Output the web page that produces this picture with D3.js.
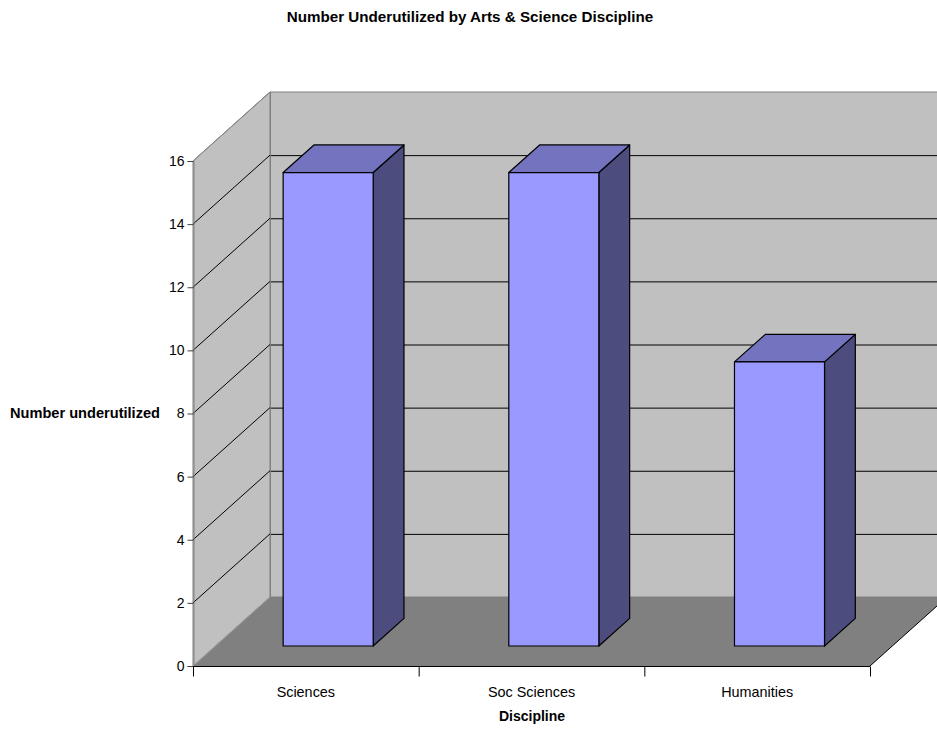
<!DOCTYPE html>
<html>
<head>
<meta charset="utf-8">
<script src="https://cdn.jsdelivr.net/npm/d3@7"></script>
<style>
  html, body { margin: 0; padding: 0; background: #fff; }
  svg { display: block; font-family: "Liberation Sans", Arial, sans-serif; }
</style>
</head>
<body>
<svg id="chart" width="937" height="731"></svg>
<script>
// Data
const categories = ["Sciences", "Soc Sciences", "Humanities"];
const values = [15, 15, 9];
const yTicks = [0, 2, 4, 6, 8, 10, 12, 14, 16];
const titleText = "Number Underutilized by Arts & Science Discipline";
const yTitle = "Number underutilized";
const xTitle = "Discipline";

const svg = d3.select("#chart");

// Front-plane geometry and the oblique depth offset of the 3D box
const plotLeft = 193, plotRight = 870, plotBottom = 666, plotTop = 161;
const depthX = 77, depthY = -69;
const barD0 = 0.29, barD1 = 0.69;   // bar depth within the box (0 = front, 1 = back)

const y = d3.scaleLinear().domain([0, 16]).range([plotBottom, plotTop]);
const xCat = d3.scaleBand().domain(categories).range([plotLeft, plotRight]).padding(0);
const xBar = d3.scaleBand().domain(categories).range([plotLeft, plotRight])
  .paddingInner(0.601).paddingOuter(0.3005);

// project a front-plane point (px, py) to depth d
const P = (px, py, d) => [px + d * depthX, py + d * depthY];
const poly = pts => pts.map(p => p.join(",")).join(" ");

const yMax = 16;
const backRight = plotRight + depthX;

// Back wall
svg.append("polygon")
  .attr("points", poly([P(plotLeft, y(yMax), 1), P(plotRight, y(yMax), 1), P(plotRight, y(0), 1), P(plotLeft, y(0), 1)]))
  .attr("fill", "#c0c0c0").attr("stroke", "#808080").attr("stroke-width", 1);

// Side wall
svg.append("polygon")
  .attr("points", poly([P(plotLeft, y(yMax), 0), P(plotLeft, y(yMax), 1), P(plotLeft, y(0), 1), P(plotLeft, y(0), 0)]))
  .attr("fill", "#c0c0c0").attr("stroke", "#808080").attr("stroke-width", 1);

// Floor
svg.append("polygon")
  .attr("points", poly([P(plotLeft, y(0), 0), P(plotRight, y(0), 0), P(plotRight, y(0), 1), P(plotLeft, y(0), 1)]))
  .attr("fill", "#808080").attr("stroke", "none");
// floor right edge
svg.append("line")
  .attr("x1", plotRight).attr("y1", y(0))
  .attr("x2", plotRight + depthX).attr("y2", y(0) + depthY)
  .attr("stroke", "#000").attr("stroke-width", 1);
// floor meets side wall
svg.append("line")
  .attr("x1", plotLeft).attr("y1", y(0))
  .attr("x2", plotLeft + depthX).attr("y2", y(0) + depthY)
  .attr("stroke", "#a0a0a0").attr("stroke-width", 1);

// Gridlines on side wall and back wall
const grid = yTicks.filter(v => v > 0);
svg.append("g").selectAll("line").data(grid).join("line")
  .attr("x1", plotLeft).attr("y1", d => y(d))
  .attr("x2", plotLeft + depthX).attr("y2", d => y(d) + depthY)
  .attr("stroke", d => d === yMax ? "#808080" : "#000").attr("stroke-width", 1);
svg.append("g").selectAll("line").data(grid.filter(v => v < yMax)).join("line")
  .attr("x1", plotLeft + depthX).attr("y1", d => y(d) + depthY + 0.5)
  .attr("x2", backRight).attr("y2", d => y(d) + depthY + 0.5)
  .attr("stroke", "#000").attr("stroke-width", 1);
// inner corner edge
svg.append("line")
  .attr("x1", plotLeft + depthX + 0.5).attr("y1", y(yMax) + depthY)
  .attr("x2", plotLeft + depthX + 0.5).attr("y2", y(0) + depthY)
  .attr("stroke", "#808080").attr("stroke-width", 1);

// Bars
const bars = svg.append("g");
categories.forEach((c, i) => {
  const v = values[i];
  const x0 = xBar(c), x1 = xBar(c) + xBar.bandwidth();
  const yt = y(v), yb = y(0);
  const g = bars.append("g").attr("stroke", "#000").attr("stroke-width", 1.2).attr("stroke-linejoin", "round");
  // right side face
  g.append("polygon")
    .attr("points", poly([P(x1, yt, barD0), P(x1, yt, barD1), P(x1, yb, barD1), P(x1, yb, barD0)]))
    .attr("fill", "#4c4c7f");
  // top face
  g.append("polygon")
    .attr("points", poly([P(x0, yt, barD0), P(x0, yt, barD1), P(x1, yt, barD1), P(x1, yt, barD0)]))
    .attr("fill", "#7373bf");
  // front face
  g.append("polygon")
    .attr("points", poly([P(x0, yt, barD0), P(x1, yt, barD0), P(x1, yb, barD0), P(x0, yb, barD0)]))
    .attr("fill", "#9999ff");
});

// Value axis (front left edge)
const yAxis = d3.axisLeft(y).tickValues(yTicks).tickSize(6).tickPadding(3).tickFormat(d3.format("d"));
const gy = svg.append("g").attr("transform", `translate(${plotLeft + 0.5},0)`).call(yAxis);
gy.select(".domain").attr("stroke", "#808080");
gy.selectAll(".tick line").attr("stroke", "#404040");
gy.selectAll(".tick text").attr("font-size", 14).attr("fill", "#000")
  .attr("font-family", "'Liberation Sans', Arial, sans-serif");

// Category axis (front floor edge)
const xAxis = d3.axisBottom(xCat).tickSize(0).tickPadding(0);
const gx = svg.append("g").attr("transform", `translate(0,${plotBottom + 0.5})`).call(xAxis);
gx.select(".domain").remove();
gx.append("line").attr("x1", plotLeft).attr("x2", plotRight).attr("stroke", "#000");
gx.selectAll(".tick text").attr("font-size", 14.4).attr("fill", "#000").attr("dy", null).attr("y", 30)
  .attr("font-family", "'Liberation Sans', Arial, sans-serif");
// category boundary ticks
const bounds = categories.map(c => xCat(c)).concat([plotRight]);
gx.selectAll("line.bound").data(bounds).join("line")
  .attr("class", "bound")
  .attr("x1", d => d + 0.5).attr("x2", d => d + 0.5)
  .attr("y1", 0).attr("y2", 10)
  .attr("stroke", "#000");

// Titles
svg.append("text").attr("x", 470).attr("y", 22).attr("text-anchor", "middle")
  .attr("font-size", 15.2).attr("font-weight", "bold").text(titleText);
svg.append("text").attr("x", 10).attr("y", 418)
  .attr("font-size", 14.6).attr("font-weight", "bold").text(yTitle);
svg.append("text").attr("x", 532).attr("y", 721).attr("text-anchor", "middle")
  .attr("font-size", 14).attr("font-weight", "bold").text(xTitle);
</script>
</body>
</html>
